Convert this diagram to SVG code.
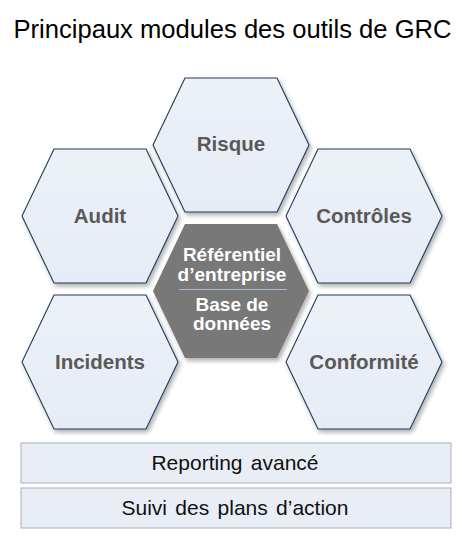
<svg xmlns="http://www.w3.org/2000/svg" xmlns:xlink="http://www.w3.org/1999/xlink" width="466" height="545" viewBox="0 0 466 545">
<style>
.hex{fill:url(#hexfill);stroke:#1f3b5c;stroke-width:1.1;filter:url(#shadow)}
.hexc{fill:#787878;stroke:none;filter:url(#shadow)}
.lbl{font-family:"Liberation Sans",Arial,sans-serif;font-weight:bold;font-size:20.5px;fill:#595959;text-anchor:middle}
.clbl{font-family:"Liberation Sans",Arial,sans-serif;font-weight:bold;font-size:19px;fill:#ffffff;text-anchor:middle}
.box{fill:#e9eef6;stroke:#a7afba;stroke-width:1}
.btxt{font-family:"Liberation Sans",Arial,sans-serif;font-size:21px;fill:#111111;text-anchor:middle;word-spacing:2.5px}
.title{font-family:"Liberation Sans",Arial,sans-serif;font-size:25.6px;fill:#000000;text-anchor:middle}
</style>
<defs>
<linearGradient id="hexfill" x1="0" y1="0" x2="0" y2="1">
<stop offset="0" stop-color="#edf1f8"/>
<stop offset="1" stop-color="#e6ecf5"/>
</linearGradient>
<filter id="shadow" x="-20%" y="-20%" width="150%" height="150%">
<feDropShadow dx="2" dy="3" stdDeviation="2" flood-color="#000000" flood-opacity="0.3"/>
</filter>
<polygon id="hexshape" points="-46,-67 46,-67 78,0 46,67 -46,67 -78,0"/>
</defs>
<rect width="466" height="545" fill="#ffffff"/>
<text class="title" x="232.5" y="38">Principaux modules des outils de GRC</text>
<g id="risque">
<use xlink:href="#hexshape" href="#hexshape" class="hex" transform="translate(231,145)"/>
<text class="lbl" x="231" y="151">Risque</text>
</g>
<g id="audit">
<use xlink:href="#hexshape" href="#hexshape" class="hex" transform="translate(100,216)"/>
<text class="lbl" x="100" y="223">Audit</text>
</g>
<g id="controles">
<use xlink:href="#hexshape" href="#hexshape" class="hex" transform="translate(364,216)"/>
<text class="lbl" x="364" y="223">Contrôles</text>
</g>
<g id="incidents">
<use xlink:href="#hexshape" href="#hexshape" class="hex" transform="translate(100,362)"/>
<text class="lbl" x="100" y="369">Incidents</text>
</g>
<g id="conformite">
<use xlink:href="#hexshape" href="#hexshape" class="hex" transform="translate(364,362)"/>
<text class="lbl" x="364" y="369">Conformité</text>
</g>
<g id="referentiel">
<use xlink:href="#hexshape" href="#hexshape" class="hexc" transform="translate(231,291)"/>
<text class="clbl" x="232" y="261">Référentiel</text>
<text class="clbl" x="232" y="281">d’entreprise</text>
<line x1="179" y1="289.5" x2="287" y2="289.5" stroke="#a9bdd2" stroke-width="1.2"/>
<text class="clbl" x="232" y="311">Base de</text>
<text class="clbl" x="232" y="330">données</text>
</g>
<g id="reporting">
<rect class="box" x="21" y="443" width="430" height="40"/>
<text class="btxt" x="235" y="470">Reporting avancé</text>
</g>
<g id="suivi">
<rect class="box" x="21" y="488" width="430" height="40"/>
<text class="btxt" x="235" y="515">Suivi des plans d’action</text>
</g>
<g id="connectors"/>
</svg>
